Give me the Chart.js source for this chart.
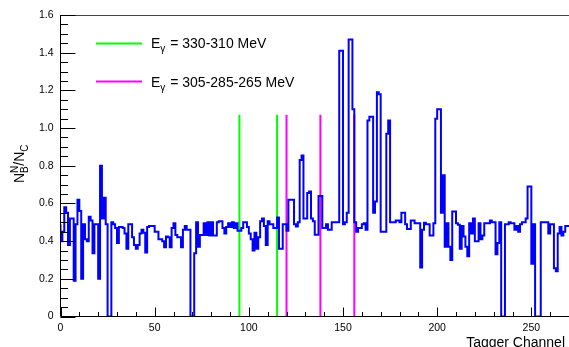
<!DOCTYPE html>
<html>
<head>
<meta charset="utf-8">
<title>N_B^N / N_C vs tagger channel</title>
<script src="https://cdn.jsdelivr.net/npm/chart.js@4.4.0/dist/chart.umd.min.js"></script>
<style>
	html, body { margin: 0; padding: 0; background: #fff; }
	#chart { display: block; }
</style>
</head>
<body>
<canvas id="chart" width="569" height="347"></canvas>
<script>
;(function () {
	'use strict';

	// Ratio per tagger channel (bin n covers [n, n+1)).
	var ratio = [
		0.49, 0.40, 0.45, 0.58, 0.55, 0.38, 0.52, 0.52, 0.19, 0.49,
		0.62, 0.56, 0.20, 0.49, 0.41, 0.40, 0.53, 0.51, 0.335, 0.49,
		0.49, 0.20, 0.80, 0.52, 0.63, 0.49, 0, 0, 0.50, 0.49,
		0.47, 0.39, 0.475, 0.475, 0.47, 0.44, 0.36, 0.49, 0.49, 0.42,
		0.38, 0.36, 0.38, 0.44, 0.46, 0.445, 0.34, 0.475, 0.48, 0.48,
		0.48, 0.45, 0.45, 0.41, 0.41, 0.40, 0.367, 0.425, 0.42, 0.367,
		0.47, 0.495, 0.433, 0.42, 0.42, 0.367, 0.46, 0.48, 0.46, 0.46,
		0, 0, 0.335, 0.50, 0.37, 0.433, 0.433, 0.495, 0.433, 0.50,
		0.43, 0.50, 0.43, 0.43, 0.50, 0.505, 0.505, 0.47, 0.44, 0.475,
		0.495, 0.475, 0.50, 0.47, 0.495, 0.455, 0.455, 0.47, 0.50, 0.50,
		0.475, 0.44, 0.41, 0.35, 0.445, 0.36, 0.42, 0.505, 0.52, 0.48,
		0.38, 0.505, 0.49, 0.49, 0.47, 0.47, 0.525, 0.36, 0.36, 0.49,
		0.49, 0.455, 0.62, 0.62, 0.62, 0.49, 0.477, 0.50, 0.83, 0.855,
		0.52, 0.52, 0.655, 0.664, 0.52, 0.505, 0.434, 0.434, 0.64, 0.64,
		0.47, 0.47, 0.49, 0.46, 0.46, 0.50, 0.50, 0.50, 0.50, 1.41,
		1.41, 0.49, 0.50, 0.55, 1.47, 1.47, 1.10, 0.50, 0.45, 0.47,
		0.47, 0.49, 0.495, 0.46, 1.04, 1.06, 1.06, 0.55, 0.61, 1.19,
		1.18, 0.45, 0.45, 0.45, 0.97, 1.04, 0.50, 0.50, 0.50, 0.51,
		0.51, 0.50, 0.55, 0.55, 0.49, 0.465, 0.465, 0.51, 0.51, 0.495,
		0.495, 0.495, 0.26, 0.46, 0.497, 0.49, 0.49, 0.43, 0.43, 0.495,
		1.05, 1.10, 1.10, 0.55, 0.75, 0.37, 0.495, 0.37, 0.30, 0.557,
		0.557, 0.495, 0.487, 0.36, 0.48, 0.424, 0.37, 0.32, 0.495, 0.44,
		0.52, 0.40, 0.40, 0.495, 0.41, 0.43, 0.495, 0.495, 0.495, 0.51,
		0.50, 0.50, 0.33, 0.39, 0.50, 0, 0, 0.49, 0.49, 0.50,
		0.495, 0.495, 0.46, 0.48, 0.45, 0.49, 0.50, 0.50, 0.52, 0.69,
		0.69, 0.28, 0.49, 0, 0, 0, 0.50, 0.50, 0.50, 0.50,
		0.44, 0.49, 0.49, 0.256, 0.24, 0.44, 0.475, 0.43, 0.45, 0.48
	];

	// Photon energy markers (tagger channels)
	var greenChannels   = [95, 115];
	var magentaChannels = [120, 138, 156];
	var markerTop       = 1.07;

	var legendLabels = ['330-310 MeV', '305-285-265 MeV'];
	var xTitle = 'Tagger Channel';

	var FONT = '"Liberation Sans", Arial, Helvetica, sans-serif';
	var BLUE = '#0000ff', GREEN = '#00ff00', MAGENTA = '#ff00ff';

	// step outline: one point per bin low edge plus closing edge
	var histPoints = ratio.map(function (v, i) {
		return {x: i, y: v};
	});
	histPoints.push({x: ratio.length, y: ratio[ratio.length - 1]});

	function markerSet(ch, color) {
		return {
			data: [{x: ch, y: 0}, {x: ch, y: markerTop}],
			borderColor: color,
			borderWidth: 2,
			pointRadius: 0,
			fill: false
		};
	}

	var datasets = [{
		data: histPoints,
		stepped: 'after',
		borderColor: BLUE,
		borderWidth: 2,
		pointRadius: 0,
		fill: false
	}];
	greenChannels.forEach(function (c) { datasets.push(markerSet(c, GREEN)); });
	magentaChannels.forEach(function (c) { datasets.push(markerSet(c, MAGENTA)); });

	// Draws E_gamma = ... with a subscripted gamma
	function drawEgamma(ctx, x, y, text) {
		ctx.font = '14px ' + FONT;
		ctx.fillText('E', x, y);
		x += ctx.measureText('E').width;
		ctx.font = '10px ' + FONT;
		ctx.fillText('\u03b3', x, y + 4);
		x += ctx.measureText('\u03b3').width + 1;
		ctx.font = '14px ' + FONT;
		ctx.fillText(' = ' + text, x, y);
	}

	var rootStyle = {
		id: 'rootStyle',
		afterDatasetsDraw: function (chart) {
			var ctx = chart.ctx,
				area = chart.chartArea,
				xs = chart.scales.x,
				ys = chart.scales.y,
				i, p, len;

			ctx.save();

			// frame
			ctx.lineWidth = 1;
			ctx.strokeStyle = '#444';
			ctx.beginPath();
			ctx.moveTo(area.left, Math.round(area.top) + 0.5);
			ctx.lineTo(area.right, Math.round(area.top) + 0.5);
			ctx.stroke();

			ctx.strokeStyle = '#000';
			ctx.beginPath();
			ctx.moveTo(Math.floor(area.left) + 0.5, area.top);
			ctx.lineTo(Math.floor(area.left) + 0.5, area.bottom);
			ctx.moveTo(area.left, Math.floor(area.bottom) + 0.5);
			ctx.lineTo(area.right, Math.floor(area.bottom) + 0.5);
			ctx.stroke();

			// y ticks, inward: major every 0.2, minor every 0.05
			ctx.beginPath();
			for (i = 0; i <= 32; i++) {
				p = Math.round(ys.getPixelForValue(i * 0.05)) + 0.5;
				len = (i % 4 === 0) ? 15 : 7.5;
				ctx.moveTo(area.left, p);
				ctx.lineTo(area.left + len, p);
			}
			// x ticks: major every 50, minor every 10
			for (i = 0; i <= 27; i++) {
				p = Math.round(xs.getPixelForValue(i * 10)) + 0.5;
				len = (i % 5 === 0) ? 9 : 4.5;
				ctx.moveTo(p, area.bottom);
				ctx.lineTo(p, area.bottom - len);
			}
			ctx.stroke();

			// legend
			ctx.lineWidth = 2;
			ctx.strokeStyle = GREEN;
			ctx.beginPath();
			ctx.moveTo(96, 43.5);
			ctx.lineTo(142, 43.5);
			ctx.stroke();
			ctx.strokeStyle = MAGENTA;
			ctx.beginPath();
			ctx.moveTo(96, 81.5);
			ctx.lineTo(142, 81.5);
			ctx.stroke();

			ctx.fillStyle = '#000';
			ctx.textAlign = 'left';
			ctx.textBaseline = 'alphabetic';
			drawEgamma(ctx, 151, 48, legendLabels[0]);
			drawEgamma(ctx, 151, 86.5, legendLabels[1]);

			// x title
			ctx.font = '14px ' + FONT;
			ctx.textAlign = 'right';
			ctx.fillText(xTitle, 565, 347);

			// y title N^N_B / N_C, rotated
			ctx.translate(24, 183);
			ctx.rotate(-Math.PI / 2);
			ctx.textAlign = 'left';
			var x = 0;
			ctx.font = '14px ' + FONT;
			ctx.fillText('N', x, 0);
			x += ctx.measureText('N').width;
			ctx.font = '10px ' + FONT;
			ctx.fillText('N', x, -6);
			ctx.fillText('B', x, 4);
			x += ctx.measureText('N').width;
			ctx.font = '14px ' + FONT;
			ctx.fillText('/N', x, 0);
			x += ctx.measureText('/N').width;
			ctx.font = '10px ' + FONT;
			ctx.fillText('C', x, 4);

			ctx.restore();
		}
	};

	new Chart(document.getElementById('chart'), {
		type: 'line',
		data: {datasets: datasets},
		options: {
			responsive: false,
			animation: false,
			devicePixelRatio: 1,
			layout: {padding: {top: 15, right: 0, bottom: 0, left: 0}},
			plugins: {
				legend: {display: false},
				tooltip: {enabled: false}
			},
			scales: {
				x: {
					type: 'linear',
					min: 0,
					max: 270,
					afterFit: function (s) { s.height = 30.5; },
					grid: {display: false, drawTicks: false},
					border: {display: false},
					ticks: {
						stepSize: 50,
						includeBounds: false,
						autoSkip: false,
						maxRotation: 0,
						padding: 5,
						color: '#000',
						font: {family: FONT, size: 10.5}
					}
				},
				y: {
					min: 0,
					max: 1.6,
					afterFit: function (s) { s.width = 60.5; },
					grid: {display: false, drawTicks: false},
					border: {display: false},
					ticks: {
						stepSize: 0.2,
						includeBounds: false,
						padding: 7,
						color: '#000',
						font: {family: FONT, size: 10.5}
					}
				}
			}
		},
		plugins: [rootStyle]
	});
})();
</script>
</body>
</html>
